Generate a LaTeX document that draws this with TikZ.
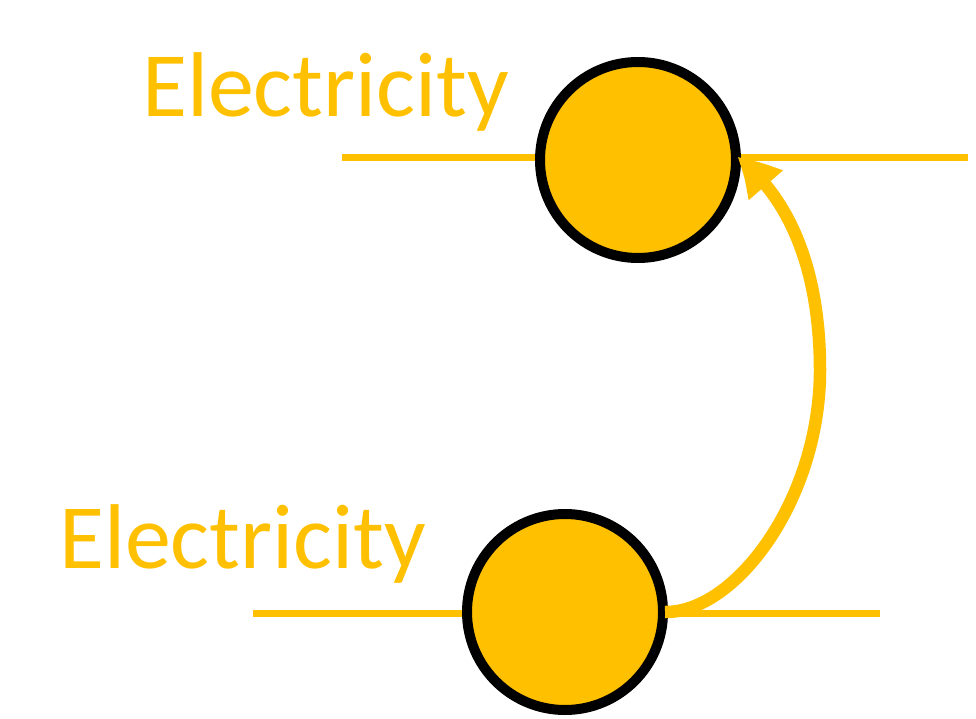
\documentclass[tikz,border=0pt]{standalone}
\usepackage{fontspec}
\setmainfont{Carlito}
\usetikzlibrary{arrows.meta,bending}
\definecolor{gold}{HTML}{FFC000}
\begin{document}
\begin{tikzpicture}[x=1pt,y=-1pt,
 wire/.style={draw=gold,line width=7pt},
 ball/.style={circle,draw=black,fill=gold,line width=10pt,minimum size=196pt,inner sep=0pt},
 label/.style={text=gold,font=\fontsize{92}{92}\selectfont,inner sep=0pt,anchor=base west},
 flow/.style={draw=gold,line width=12.5pt,-{Triangle[length=41pt,width=42pt,bend]}}]
\useasboundingbox (0,0) rectangle (976,719);
\coordinate (t1) at (342,158); \coordinate (t2) at (968,158);
\coordinate (b1) at (253,613); \coordinate (b2) at (880,613);
\draw[wire] (t1) -- (t2);
\draw[wire] (b1) -- (b2);
\node[ball] (top) at (638,160) {};
\node[ball] (bot) at (565,612) {};
\node[label] (l1) at (142,117) {Electricity};
\node[label] (l2) at (59,568) {Electricity};
\coordinate (start) at ([xshift=-3pt]bot.east);
\coordinate (mid) at (820,370);
\coordinate (tip) at ([xshift=-4pt,yshift=3pt]top.east);
\draw[flow] (start) .. controls (735,613) and (820,500) .. (mid) .. controls (820,300) and (805,210) .. (tip);
\end{tikzpicture}
\end{document}
